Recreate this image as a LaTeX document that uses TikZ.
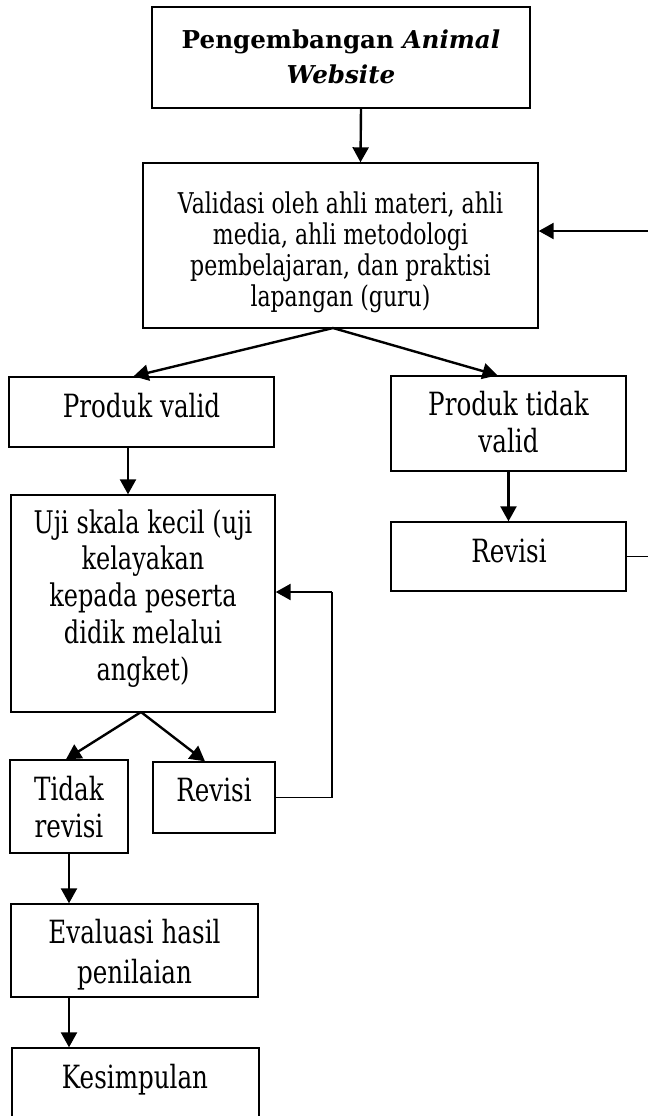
\documentclass[tikz,border=0pt]{standalone}
\usepackage{fontspec}
\usepackage{graphicx}
\setmainfont{DejaVu Serif}
\usetikzlibrary{arrows.meta,calc,fit}
\newcommand{\tallines}[1]{\scalebox{1}[1.3]{\begin{tabular}[t]{@{}c@{}}#1\end{tabular}}}
\begin{document}
\begin{tikzpicture}[x=0.5pt,y=-0.5pt,
  box/.style={draw, line width=0.7pt, inner sep=0pt},
  txt/.style={inner sep=0pt, anchor=base, font=\fontsize{12.3}{14.6}\selectfont},
  arr/.style={line width=1.2pt, -{Triangle[length=7.5pt,width=8pt]}},
  fbline/.style={line width=0.75pt}]
\path[use as bounding box] (0,0) rectangle (648,1116);
\clip (0,0) rectangle (648,1116);

% boxes
\node[box, fit={(152,7) (530,108)}] (b1) {};
\node[box, fit={(143,163) (538,328)}] (b2) {};
\node[box, fit={(9,377) (274,447)}] (pv) {};
\node[box, fit={(391,376) (626,471)}] (ptv) {};
\node[box, fit={(11,495) (275,712)}] (uji) {};
\node[box, fit={(391,522) (626,591)}] (rr) {};
\node[box, fit={(10,760) (128,853)}] (tr) {};
\node[box, fit={(153,762) (275,833)}] (rl) {};
\node[box, fit={(11,904) (258,997)}] (ev) {};
\node[box, fit={(12,1048) (259,1140)}] (ks) {};

% texts
\node[txt, font=\fontsize{12.3}{17.5}\selectfont\bfseries] (t1) at (341,48) {\begin{tabular}[t]{@{}c@{}}Pengembangan \textit{Animal}\\\textit{Website}\end{tabular}};
\node[txt, font=\fontsize{11}{11.9}\selectfont] (t2) at (340.5,213) {\tallines{Validasi oleh ahli materi, ahli\\media, ahli metodologi\\pembelajaran, dan praktisi\\lapangan (guru)}};
\node[txt] (t3) at (141.5,417) {\tallines{Produk valid}};
\node[txt] (t4) at (508.5,415) {\tallines{Produk tidak\\valid}};
\node[txt, font=\fontsize{12}{14.2}\selectfont] (t5) at (143,533) {\tallines{Uji skala kecil (uji\\kelayakan\\kepada peserta\\didik melalui\\angket)}};
\node[txt] (t6) at (509,562) {\tallines{Revisi}};
\node[txt] (t7) at (69,800) {\tallines{Tidak\\revisi}};
\node[txt] (t8) at (214,801) {\tallines{Revisi}};
\node[txt, font=\fontsize{12.3}{15.4}\selectfont] (t9) at (134.5,943) {\tallines{Evaluasi hasil\\penilaian}};
\node[txt] (t10) at (135,1088) {\tallines{Kesimpulan}};

% connectors
\draw[arr] ($(b1.south)+(20,0)$) -- ($(b2.north)+(20,0)$);
\coordinate (ap2) at (333,328);
\draw[arr] (ap2) -- ($(pv.north)+(-8,0)$);
\draw[arr] (ap2) -- ($(ptv.north)+(-11,0)$);
\draw[arr] ($(pv.south)+(-13.5,0)$) -- ($(uji.north)+(-15,0)$);
\draw[arr] (ptv.south) -- (rr.north);
\coordinate (ap3) at (141,712);
\draw[arr] (ap3) -- ($(tr.north)+(-3,0)$);
\draw[arr] (ap3) -- ($(rl.north)+(-9,0)$);
\draw[arr] (tr.south) -- (ev.north -| tr.south);
\draw[arr] (ev.south -| tr.south) -- (ks.north -| tr.south);

% feedback loops
\coordinate (fbA) at (652,556.5);
\coordinate (fbB) at (652,231);
\draw[fbline] (rr.east) -- (fbA) -- (fbB);
\draw[arr] (fbB) -- (b2.east |- fbB);
\coordinate (lpA) at (332,797.5);
\coordinate (lpB) at (332,592);
\draw[fbline] (rl.east) -- (lpA) -- (lpB);
\draw[arr] (lpB) -- (uji.east |- lpB);
\end{tikzpicture}
\end{document}
